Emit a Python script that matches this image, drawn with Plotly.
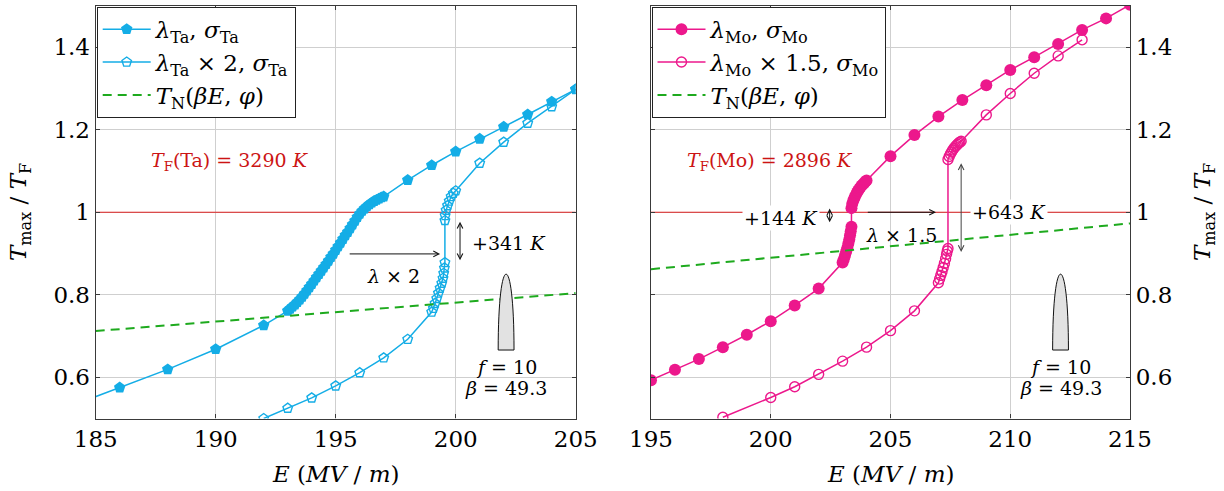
import plotly.graph_objects as go

# ---------------- data ----------------
# Ta, nominal lambda
ta_E = [184, 186, 188, 190, 192,
        193.0, 193.1, 193.2, 193.3, 193.4, 193.5, 193.6, 193.7, 193.8, 193.9,
        194.0, 194.1, 194.2, 194.3, 194.4, 194.5, 194.6, 194.7, 194.8, 194.9,
        195.0, 195.1, 195.2, 195.3, 195.4, 195.5, 195.6, 195.7, 195.8, 195.9,
        196.0, 196.1, 196.2, 196.3, 196.4, 196.5, 196.6, 196.7, 196.8, 196.9,
        197.0, 198, 199, 200, 201, 202, 203, 204, 205]
ta_T = [0.531, 0.575, 0.619, 0.668, 0.726,
        0.761, 0.766, 0.771, 0.776, 0.782, 0.788, 0.795, 0.802, 0.810, 0.818,
        0.826, 0.834, 0.842, 0.850, 0.858, 0.866, 0.874, 0.882, 0.891, 0.899,
        0.908, 0.917, 0.926, 0.935, 0.944, 0.952, 0.961, 0.970, 0.979, 0.988,
        0.996, 1.003, 1.009, 1.014, 1.019, 1.023, 1.027, 1.030, 1.033, 1.036,
        1.038, 1.078, 1.114, 1.147, 1.178, 1.207, 1.237, 1.268, 1.298]

# Ta, lambda x 2
ta2_E = [192, 193, 194, 195, 196, 197, 198,
         199.00, 199.07, 199.14, 199.21, 199.28, 199.35, 199.42, 199.47, 199.50, 199.53, 199.55,
         199.55, 199.56, 199.60, 199.66, 199.73, 199.81, 199.90, 200.00,
         201, 202, 203, 204, 205]
ta2_T = [0.500, 0.525, 0.550, 0.579, 0.611, 0.647, 0.692,
         0.758, 0.767, 0.779, 0.791, 0.804, 0.816, 0.828, 0.840, 0.852, 0.865, 0.878,
         0.980, 0.992, 1.005, 1.016, 1.027, 1.038, 1.046, 1.052,
         1.119, 1.170, 1.216, 1.256, 1.298]

# Mo, nominal lambda
mo_E = [195, 196, 197, 198, 199, 200, 201, 202,
        203.00, 203.05, 203.10, 203.15, 203.20, 203.24, 203.28, 203.31, 203.34, 203.37,
        203.37, 203.40, 203.45, 203.50, 203.55, 203.60, 203.65, 203.70, 203.75, 203.80,
        203.85, 203.90, 203.95, 204.00,
        205, 206, 207, 208, 209, 210, 211, 212, 213, 214, 215]
mo_T = [0.593, 0.618, 0.644, 0.673, 0.703, 0.736, 0.774, 0.815,
        0.878, 0.886, 0.895, 0.905, 0.914, 0.924, 0.934, 0.944, 0.954, 0.965,
        1.010, 1.020, 1.029, 1.036, 1.042, 1.048, 1.053, 1.057, 1.061, 1.065,
        1.068, 1.071, 1.074, 1.077,
        1.136, 1.187, 1.232, 1.272, 1.308, 1.345, 1.376, 1.408, 1.442, 1.470, 1.503]

# Mo, lambda x 1.5
mo15_E = [198, 200, 201, 202, 203, 204, 205, 206,
          207.00, 207.05, 207.10, 207.15, 207.20, 207.25, 207.30, 207.34, 207.37, 207.40,
          207.40, 207.45, 207.50, 207.55, 207.60, 207.65, 207.70, 207.75, 207.80, 207.85,
          207.90, 207.95,
          209, 210, 211, 212, 213]
mo15_T = [0.503, 0.551, 0.577, 0.607, 0.639, 0.673, 0.713, 0.761,
          0.829, 0.838, 0.847, 0.856, 0.866, 0.876, 0.887, 0.898, 0.906, 0.912,
          1.128, 1.135, 1.141, 1.146, 1.151, 1.155, 1.159, 1.162, 1.165, 1.168,
          1.170, 1.172,
          1.236, 1.288, 1.337, 1.379, 1.418]

# Nottingham temperature line T_N(beta E, phi)
tn_ta_E = [185, 205]
tn_ta_T = [0.712, 0.804]
tn_mo_E = [195, 215]
tn_mo_T = [0.862, 0.973]

tf_ratio = 1.0          # T_max / T_F = 1 (melting)

# ticks
ta_xticks = [185, 190, 195, 200, 205]
mo_xticks = [195, 200, 205, 210, 215]
yticks = [0.6, 0.8, 1.0, 1.2, 1.4]
ytick_text = ["0.6", "0.8", "1", "1.2", "1.4"]

# ---------------- styling ----------------
FONT = "DejaVu Serif"
CYAN = "#14ade6"
PINK = "#ec188c"
GREEN = "#1eaa1e"
RED = "#dd2020"
TXTRED = "#cc1414"
BIG = 23
SMALL = 19

fig = go.Figure()

fig.add_trace(go.Scatter(x=ta_E, y=ta_T, mode="lines+markers",
                         line=dict(color=CYAN, width=1.5),
                         marker=dict(symbol="pentagon", size=12, color=CYAN),
                         name="<i>λ</i><sub>Ta</sub>, <i>σ</i><sub>Ta</sub>",
                         xaxis="x", yaxis="y", legend="legend"))
fig.add_trace(go.Scatter(x=ta2_E, y=ta2_T, mode="lines+markers",
                         line=dict(color=CYAN, width=1.5),
                         marker=dict(symbol="pentagon-open", size=10, color=CYAN,
                                     line=dict(width=1.4)),
                         name="<i>λ</i><sub>Ta</sub> × 2, <i>σ</i><sub>Ta</sub>",
                         xaxis="x", yaxis="y", legend="legend"))
fig.add_trace(go.Scatter(x=tn_ta_E, y=tn_ta_T, mode="lines",
                         line=dict(color=GREEN, width=2, dash="9px,6px"),
                         name="<i>T</i><sub>N</sub>(<i>βE</i>, <i>φ</i>)",
                         xaxis="x", yaxis="y", legend="legend"))

fig.add_trace(go.Scatter(x=mo_E, y=mo_T, mode="lines+markers",
                         line=dict(color=PINK, width=1.5),
                         marker=dict(symbol="circle", size=12, color=PINK),
                         name="<i>λ</i><sub>Mo</sub>, <i>σ</i><sub>Mo</sub>",
                         xaxis="x2", yaxis="y2", legend="legend2"))
fig.add_trace(go.Scatter(x=mo15_E, y=mo15_T, mode="lines+markers",
                         line=dict(color=PINK, width=1.5),
                         marker=dict(symbol="circle-open", size=10, color=PINK,
                                     line=dict(width=1.4)),
                         name="<i>λ</i><sub>Mo</sub> × 1.5, <i>σ</i><sub>Mo</sub>",
                         xaxis="x2", yaxis="y2", legend="legend2"))
fig.add_trace(go.Scatter(x=tn_mo_E, y=tn_mo_T, mode="lines",
                         line=dict(color=GREEN, width=2, dash="9px,6px"),
                         name="<i>T</i><sub>N</sub>(<i>βE</i>, <i>φ</i>)",
                         xaxis="x2", yaxis="y2", legend="legend2"))

# ---------------- axes ----------------
W, H = 1224, 491
ydom = [1 - 418.5 / H, 1 - 6 / H]
axis_common = dict(showgrid=True, gridcolor="#cfcfcf", gridwidth=1,
                   showline=True, linecolor="#3a3a3a", linewidth=1.2,
                   mirror="ticks", ticks="inside", ticklen=4, tickcolor="#3a3a3a",
                   zeroline=False, automargin=False,
                   tickfont=dict(family=FONT, size=BIG, color="black"))

leg_common = dict(xanchor="left", yanchor="top", bgcolor="white", bordercolor="#222",
                  borderwidth=1, font=dict(family=FONT, size=BIG, color="black"),
                  tracegroupgap=0, itemwidth=48)

fig.update_layout(
    width=W, height=H, margin=dict(l=0, r=0, t=0, b=0, pad=0, autoexpand=False),
    paper_bgcolor="white", plot_bgcolor="white",
    xaxis=dict(domain=[95.7 / W, 575.7 / W], range=[185, 205], anchor="y",
               tickvals=ta_xticks, ticktext=[str(v) for v in ta_xticks], **axis_common),
    yaxis=dict(domain=ydom, range=[0.5, 1.5], anchor="x",
               tickvals=yticks, ticktext=ytick_text, **axis_common),
    xaxis2=dict(domain=[651 / W, 1130 / W], range=[195, 215], anchor="y2",
                tickvals=mo_xticks, ticktext=[str(v) for v in mo_xticks], **axis_common),
    yaxis2=dict(domain=ydom, range=[0.5, 1.5], anchor="x2", side="right",
                tickvals=yticks, ticktext=ytick_text, **axis_common),
    legend=dict(x=96.7 / W, y=1 - 6.7 / H, **leg_common),
    legend2=dict(x=651.5 / W, y=1 - 6.7 / H, **leg_common),
    showlegend=True,
)

# ---------------- shapes ----------------
shapes = []
for xr, yr, x0, x1 in [("x", "y", 185, 205), ("x2", "y2", 195, 215)]:
    shapes.append(dict(type="line", xref=xr, yref=yr, x0=x0, x1=x1, y0=tf_ratio, y1=tf_ratio,
                       line=dict(color=RED, width=1.2), layer="between"))

# small laser pulse glyph
pulse_centers = [("x", "y", 202.1), ("x2", "y2", 212.1)]
pulse_half_w = 0.33
pulse_bot, pulse_top = 0.666, 0.85
k = (pulse_top - pulse_bot) / 0.75
for xr, yr, c in pulse_centers:
    xl, xrr = c - pulse_half_w, c + pulse_half_w
    path = (f"M {xl},{pulse_bot} C {xl},{pulse_bot + k} {xrr},{pulse_bot + k} {xrr},{pulse_bot} Z")
    shapes.append(dict(type="path", xref=xr, yref=yr, path=path,
                       fillcolor="#e2e2e2", line=dict(color="#111", width=1)))
fig.update_layout(shapes=shapes)

# ---------------- annotations ----------------
ann = []
def txt(xr, yr, x, y, s, size=SMALL, color="black", bg=None, xanchor="center"):
    d = dict(xref=xr, yref=yr, x=x, y=y, text=s, showarrow=False,
             font=dict(family=FONT, size=size, color=color), xanchor=xanchor, yanchor="middle")
    if bg:
        d["bgcolor"] = bg
    ann.append(d)

def arrow(xr, yr, x_tail, y_tail, x_head, y_head, both=False, color="#111"):
    d = dict(xref=xr, yref=yr, axref=xr, ayref=yr, x=x_head, y=y_head, ax=x_tail, ay=y_tail,
             text="", showarrow=True, arrowhead=5, arrowsize=1.1, arrowwidth=1,
             arrowcolor=color, standoff=0, startstandoff=0)
    if both:
        d["arrowside"] = "end+start"
        d["startarrowhead"] = 5
        d["startarrowsize"] = 1.1
    ann.append(d)

# left panel
txt("x", "y", 190.6, 1.122, "<i>T</i><sub>F</sub>(Ta) = 3290 <i>K</i>", color=TXTRED)
arrow("x", "y", 195.52, 0.899, 199.35, 0.899)
txt("x", "y", 197.4, 0.845, "<i>λ</i> × 2")
arrow("x", "y", 200.18, 0.880, 200.18, 0.977, both=True)
txt("x", "y", 202.2, 0.926, "+341 <i>K</i>")
txt("x", "y", 202.1, 0.624, "<i>f</i> = 10")
txt("x", "y", 202.1, 0.573, "<i>β</i> = 49.3")

# right panel
txt("x2", "y2", 199.98, 1.122, "<i>T</i><sub>F</sub>(Mo) = 2896 <i>K</i>", color=TXTRED)
arrow("x2", "y2", 203.99, 1.0, 206.9, 1.0)
txt("x2", "y2", 205.45, 0.945, "<i>λ</i> × 1.5")
txt("x2", "y2", 200.43, 0.986, "+144 <i>K</i>", bg="white")
arrow("x2", "y2", 202.46, 0.972, 202.46, 1.009, both=True)
arrow("x2", "y2", 207.95, 0.900, 207.95, 1.119, both=True, color="#444")
txt("x2", "y2", 209.96, 1.001, "+643 <i>K</i>", bg="white")
txt("x2", "y2", 212.1, 0.624, "<i>f</i> = 10")
txt("x2", "y2", 212.1, 0.573, "<i>β</i> = 49.3")

# axis titles
ytitle = "<i>T</i><sub>max</sub> / <i>T</i><sub>F</sub>"
xtitle = "<i>E</i> (<i>MV</i> / <i>m</i>)"
for xp in (20, 1204):
    ann.append(dict(xref="paper", yref="paper", x=xp / W, y=1 - 212 / H, text=ytitle,
                    textangle=-90, showarrow=False,
                    font=dict(family=FONT, size=BIG, color="black"),
                    xanchor="center", yanchor="middle"))
for xp in (335.7, 890.5):
    ann.append(dict(xref="paper", yref="paper", x=xp / W, y=1 - 474 / H, text=xtitle,
                    showarrow=False, font=dict(family=FONT, size=BIG, color="black"),
                    xanchor="center", yanchor="middle"))
fig.update_layout(annotations=ann)

fig.write_html("out.html",
               config={"displayModeBar": False},
               post_script="document.body.style.margin='0px';document.body.style.overflow='hidden';")
